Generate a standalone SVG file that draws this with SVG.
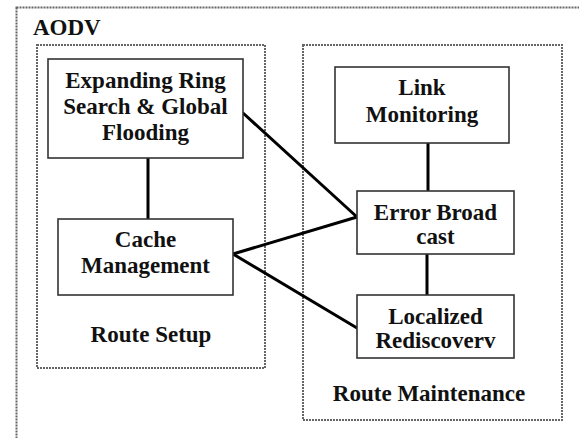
<svg xmlns="http://www.w3.org/2000/svg" width="579" height="438" viewBox="0 0 579 438">
  <style>
    .frame { fill: none; stroke: #666; stroke-width: 2; stroke-dasharray: 2 1; }
    .box { fill: #fff; stroke: #333; stroke-width: 1.6; }
    .link { fill: none; stroke: #000; stroke-width: 3; stroke-linecap: round; }
    text { font-family: "Liberation Serif", "Times New Roman", serif; font-weight: bold; font-size: 23px; fill: #111; }
    .c { text-anchor: middle; }
  </style>
  <rect width="579" height="438" fill="#fff"/>

  <!-- outer AODV frame (runs past the right and bottom edges) -->
  <g id="aodv">
    <rect class="frame" x="16.5" y="7.5" width="600" height="460"/>
    <text x="33" y="35">AODV</text>
  </g>

  <!-- groups -->
  <g id="route-setup">
    <rect class="frame" x="37" y="45" width="228" height="323"/>
    <text class="c" x="151" y="342">Route Setup</text>
  </g>
  <g id="route-maintenance">
    <rect class="frame" x="303" y="45" width="259" height="375"/>
    <text class="c" x="429" y="401">Route Maintenance</text>
  </g>

  <!-- connectors -->
  <g id="connectors">
    <line class="link" x1="148" y1="158" x2="148" y2="219"/>
    <line class="link" x1="428" y1="143" x2="428" y2="191"/>
    <line class="link" x1="427" y1="254" x2="427" y2="295"/>
    <line class="link" x1="243" y1="113" x2="357" y2="217"/>
    <line class="link" x1="233" y1="254" x2="357" y2="217"/>
    <line class="link" x1="233" y1="254" x2="357" y2="328"/>
  </g>

  <!-- nodes -->
  <g id="expanding-ring">
    <rect class="box" x="48" y="59" width="195" height="99"/>
    <text class="c" x="145.5" y="88">Expanding Ring</text>
    <text class="c" x="145.5" y="114">Search &amp; Global</text>
    <text class="c" x="145.5" y="140">Flooding</text>
  </g>
  <g id="cache-management">
    <rect class="box" x="58" y="219" width="175" height="76"/>
    <text class="c" x="145.5" y="247">Cache</text>
    <text class="c" x="145.5" y="273">Management</text>
  </g>
  <g id="link-monitoring">
    <rect class="box" x="335" y="67" width="174" height="76"/>
    <text class="c" x="422" y="95">Link</text>
    <text class="c" x="422" y="122">Monitoring</text>
  </g>
  <g id="error-broadcast">
    <rect class="box" x="357" y="191" width="157" height="63"/>
    <text class="c" x="435.5" y="220">Error Broad</text>
    <text class="c" x="435.5" y="244">cast</text>
  </g>
  <g id="localized-rediscovery">
    <rect class="box" x="357" y="295" width="157" height="63"/>
    <text class="c" x="435.5" y="324">Localized</text>
    <text class="c" x="435.5" y="348">Rediscoverv</text>
  </g>
</svg>
